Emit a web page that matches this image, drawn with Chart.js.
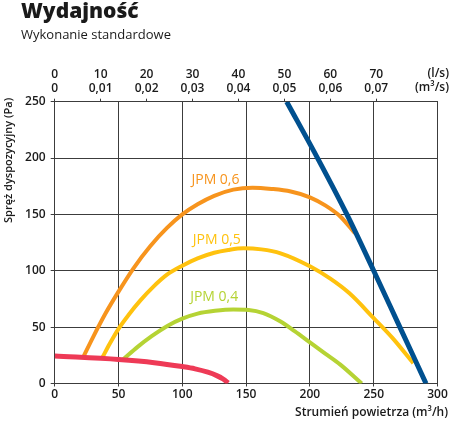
<!DOCTYPE html>
<html>
<head>
<meta charset="utf-8">
<script src="https://cdn.jsdelivr.net/npm/chart.js@4"></script>
<style>
  body { margin: 0; background: #fff; }
  #wrap { position: relative; width: 450px; height: 424px; font-family: "Open Sans", sans-serif; color: #1a1a1a; }
  #wrap div { position: absolute; white-space: nowrap; line-height: 1; }
  .title { left: 21px; top: 0px; font-size: 21px; font-weight: 800; }
  .subtitle { left: 21px; top: 28px; font-size: 13px; }
  .unit { right: 1px; font-size: 12px; font-weight: 600; text-align: right; }
  .xtitle { right: 2px; top: 406px; font-size: 12px; font-weight: 600; }
  .ytitle { left: 2px; top: 223px; font-size: 11px; font-weight: 600; transform: rotate(-90deg); transform-origin: left top; }
</style>
</head>
<body>
<div id="wrap">
  <canvas id="chart" width="450" height="424"></canvas>
  <div class="title">Wydajność</div>
  <div class="subtitle">Wykonanie standardowe</div>
  <div class="unit" style="top:67px">(l/s)</div>
  <div class="unit" style="top:81px">(m³/s)</div>
  <div class="xtitle">Strumień powietrza (m³/h)</div>
  <div class="ytitle">Spręż dyspozycyjny (Pa)</div>
</div>
<script>
// top axis: l/s and m3/s, placed on the m3/h scale
const topLs = [0, 10, 20, 30, 40, 50, 60, 70]
const topM3s = ['0', '0,01', '0,02', '0,03', '0,04', '0,05', '0,06', '0,07']
const lsToM3h = 3.6

// curves (flow m3/h, pressure Pa)
const jpm06Flow = [22.4, 30, 40, 50, 61.6, 75, 88, 100, 112, 125, 140, 155, 170, 185, 200, 212, 224, 235.3]
const jpm06Press = [23.5, 41, 62.5, 81.5, 102, 122, 138, 150, 159, 166.5, 172, 173.7, 172.6, 170.3, 165.2, 158, 148, 133.3]
const jpm05Flow = [37.6, 43, 50, 58, 67, 77, 88, 100, 112, 125, 136, 148, 162, 177, 200, 216, 231, 250, 265, 281]
const jpm05Press = [23.5, 35, 48.5, 61, 73.5, 85.5, 96.5, 104.5, 111, 116, 118.5, 120, 119, 115.5, 104, 93, 80, 58, 40, 18]
const jpm04Flow = [53.8, 65, 76, 89, 100, 112, 125.6, 140, 152, 163.5, 177, 188, 200, 212, 223.6, 240.6]
const jpm04Press = [21.5, 32.5, 42, 51.5, 57.5, 62, 64.5, 65.7, 65.3, 62.5, 55, 46.5, 36.5, 26.5, 17, 0]
const limitFlow = [181.8, 206, 229, 250, 270.5, 291]
const limitPress = [250, 200, 150, 100, 50, 0]
const minFlow = [0, 50, 78, 100, 110, 120, 127, 132, 136]
const minPress = [24.4, 21.3, 18.5, 15, 13, 10, 7, 4, 0.5]

const curveLabels = ['JPM 0,6', 'JPM 0,5', 'JPM 0,4']
const labelFlow = [126, 127, 125]
const labelPress = [180.5, 127.3, 76.5]
const labelColors = ['#F7941D', '#FFC20E', '#B5D334']

const GRID = '#3c3c3c'
const pts = (xs, ys) => xs.map((x, i) => ({x: x, y: ys[i]}))

const line = (data, color, width) => ({
    data: data,
    borderColor: color,
    borderWidth: width,
    pointRadius: 0,
    showLine: true,
    cubicInterpolationMode: 'monotone',
    borderCapStyle: 'butt'
})

const curveText = {
    id: 'curveText',
    afterDatasetsDraw(chart) {
        const ctx = chart.ctx
        const xs = chart.scales.x, ys = chart.scales.y
        ctx.save()
        ctx.font = '14px "Open Sans"'
        ctx.textAlign = 'center'
        ctx.textBaseline = 'middle'
        curveLabels.forEach((t, i) => {
            ctx.fillStyle = labelColors[i]
            ctx.fillText(t, xs.getPixelForValue(labelFlow[i]), ys.getPixelForValue(labelPress[i]))
        })
        ctx.restore()
    }
}

const tickFont = {family: '"Open Sans"', size: 12, weight: '600', lineHeight: 14 / 12}

new Chart(document.getElementById('chart').getContext('2d'), {
    type: 'scatter',
    data: {
        datasets: [
            line(pts(limitFlow, limitPress), '#00508F', 5),
            line(pts(minFlow, minPress), '#EE3A56', 5),
            line(pts(jpm06Flow, jpm06Press), labelColors[0], 4),
            line(pts(jpm05Flow, jpm05Press), labelColors[1], 4),
            line(pts(jpm04Flow, jpm04Press), labelColors[2], 4)
        ]
    },
    options: {
        responsive: false,
        animation: false,
        layout: {padding: {left: 0, right: 12.5, top: 0, bottom: 0}},
        plugins: {legend: {display: false}, tooltip: {enabled: false}},
        scales: {
            x: {
                type: 'linear', position: 'bottom', min: 0, max: 300,
                ticks: {stepSize: 50, color: '#1a1a1a', font: tickFont, padding: 1, maxRotation: 0},
                grid: {color: GRID, lineWidth: 1, tickLength: 3},
                border: {color: GRID, width: 1},
                afterFit: s => { s.height = 40.5 }
            },
            xTop: {
                type: 'linear', position: 'top', min: 0, max: 300,
                afterBuildTicks: s => { s.ticks = topLs.map(v => ({value: v * lsToM3h})) },
                ticks: {
                    color: '#1a1a1a', font: tickFont, padding: 3, maxRotation: 0, autoSkip: false,
                    callback: (v, i) => [String(topLs[i]), topM3s[i]]
                },
                grid: {drawOnChartArea: false, color: GRID, tickLength: 3},
                border: {color: GRID, width: 1},
                afterFit: s => { s.height = 101.7 }
            },
            y: {
                type: 'linear', min: 0, max: 250,
                ticks: {stepSize: 50, color: '#1a1a1a', font: tickFont, padding: 5},
                grid: {color: GRID, lineWidth: 1, tickLength: 4},
                border: {color: GRID, width: 1},
                afterFit: s => { s.width = 54.7 }
            }
        }
    },
    plugins: [curveText]
})
</script>
</body>
</html>
